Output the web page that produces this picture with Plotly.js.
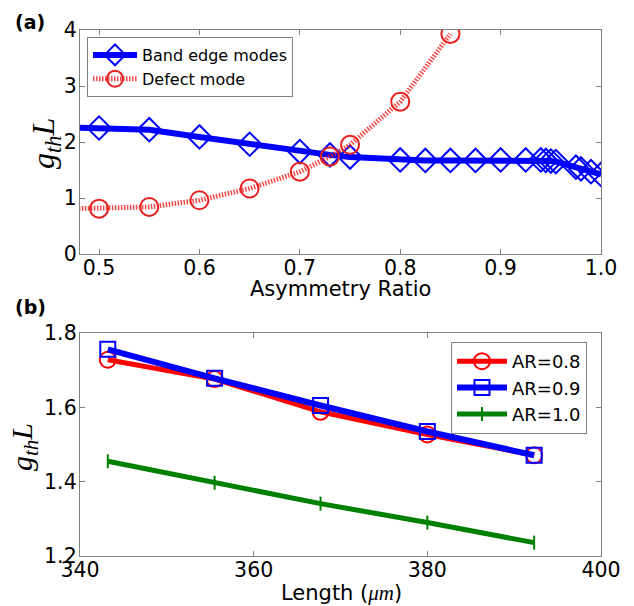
<!DOCTYPE html>
<html>
<head>
<meta charset="utf-8">
<script src="https://cdn.plot.ly/plotly-3.0.1.min.js"></script>
<style>
html,body{margin:0;padding:0;background:#fff;}
#chart{width:634px;height:606px;}
</style>
</head>
<body>
<div id="chart"></div>
<script>
// Panel (a): threshold gain vs asymmetry ratio
const asymRatioBand = [0.45, 0.5, 0.55, 0.6, 0.65, 0.7, 0.73, 0.75, 0.8, 0.825, 0.85, 0.875, 0.9, 0.925, 0.94, 0.945, 0.95, 0.955, 0.975, 0.98, 0.99, 1.0];
const bandEdgeGain = [2.27, 2.25, 2.22, 2.09, 1.96, 1.83, 1.77, 1.73, 1.68, 1.67, 1.67, 1.67, 1.68, 1.68, 1.68, 1.67, 1.66, 1.65, 1.55, 1.52, 1.47, 1.42];
const asymRatioDefect = [0.45, 0.5, 0.55, 0.6, 0.65, 0.7, 0.73, 0.75, 0.8, 0.85];
const defectGain = [0.80, 0.81, 0.84, 0.96, 1.17, 1.47, 1.74, 1.95, 2.72, 3.93];

// Panel (b): threshold gain vs length
const lengthUm = [343.2, 355.5, 367.7, 380.0, 392.3];
const gainAR08 = [1.728, 1.676, 1.588, 1.527, 1.471];
const gainAR09 = [1.756, 1.678, 1.605, 1.535, 1.471];
const gainAR10 = [1.455, 1.397, 1.341, 1.290, 1.236];

const seriesNamesA = ['Band edge modes', 'Defect mode'];
const seriesNamesB = ['AR=0.8', 'AR=0.9', 'AR=1.0'];
const xTicksA = [0.5, 0.6, 0.7, 0.8, 0.9, 1.0];
const yTicksA = [0, 1, 2, 3, 4];
const xTicksB = [340, 360, 380, 400];
const yTicksB = [1.2, 1.4, 1.6, 1.8];

const W = 634, H = 606;
const px = v => v / W;
const py = v => 1 - v / H;

const tickFont = {family: 'DejaVu Sans', size: 20.5, color: '#000'};
const frameColor = '#808080';

const traces = [
  {
    x: asymRatioBand, y: bandEdgeGain, name: seriesNamesA[0],
    xaxis: 'x', yaxis: 'y', legend: 'legend', mode: 'lines+markers',
    line: {color: '#0000ff', width: 6},
    marker: {symbol: 'diamond-open', size: 18, color: '#0000ff', line: {color: '#0000ff', width: 2}}
  },
  {
    x: asymRatioDefect, y: defectGain, name: seriesNamesA[1],
    xaxis: 'x', yaxis: 'y', legend: 'legend', mode: 'lines+markers',
    line: {color: 'rgba(240,30,30,0.8)', width: 5, dash: '1.5px,1.5px'},
    marker: {symbol: 'circle-open', size: 18, color: '#e8201f', line: {color: '#e8201f', width: 2}}
  },
  {
    x: lengthUm, y: gainAR08, name: seriesNamesB[0],
    xaxis: 'x2', yaxis: 'y2', legend: 'legend2', mode: 'lines+markers',
    line: {color: '#ff0000', width: 5},
    marker: {symbol: 'circle-open', size: 16, color: '#ff0000', line: {color: '#ff0000', width: 2}}
  },
  {
    x: lengthUm, y: gainAR09, name: seriesNamesB[1],
    xaxis: 'x2', yaxis: 'y2', legend: 'legend2', mode: 'lines+markers',
    line: {color: '#0000ff', width: 6},
    marker: {symbol: 'square-open', size: 15, color: '#0000ff', line: {color: '#0000ff', width: 2}}
  },
  {
    x: lengthUm, y: gainAR10, name: seriesNamesB[2],
    xaxis: 'x2', yaxis: 'y2', legend: 'legend2', mode: 'lines+markers',
    line: {color: '#008000', width: 5},
    marker: {symbol: 'line-ns-open', size: 10, color: '#008000', line: {color: '#008000', width: 2}}
  }
];

function axisBase(extra) {
  return Object.assign({
    showline: true, linecolor: frameColor, linewidth: 1.2, mirror: 'ticks',
    ticks: 'inside', ticklen: 5, tickwidth: 1, tickcolor: frameColor,
    showgrid: false, zeroline: false, tickfont: tickFont, tickmode: 'array',
    fixedrange: true
  }, extra);
}

const layout = {
  width: W, height: H,
  margin: {l: 0, r: 0, t: 0, b: 0, pad: 0},
  paper_bgcolor: '#fff', plot_bgcolor: '#fff',
  font: {family: 'DejaVu Sans', color: '#000'},
  xaxis: axisBase({domain: [px(80), px(601)], range: [0.481, 1.0], tickvals: xTicksA, ticktext: xTicksA.map(v => v.toFixed(1)), anchor: 'y', ticklabelstandoff: -5}),
  yaxis: axisBase({domain: [py(254), py(30)], range: [0, 4], tickvals: yTicksA, ticktext: yTicksA.map(String), anchor: 'x', ticklabelstandoff: -2}),
  xaxis2: axisBase({domain: [px(80), px(601)], range: [340, 400], tickvals: xTicksB, ticktext: xTicksB.map(String), anchor: 'y2', ticklabelstandoff: -5}),
  yaxis2: axisBase({domain: [py(556), py(333)], range: [1.2, 1.8], tickvals: yTicksB, ticktext: yTicksB.map(v => v.toFixed(1)), anchor: 'x2', ticklabelstandoff: -2}),
  legend: {
    x: px(87), y: py(37), xanchor: 'left', yanchor: 'top',
    bgcolor: '#fff', bordercolor: frameColor, borderwidth: 1,
    font: {family: 'DejaVu Sans', size: 16, color: '#000'}, itemwidth: 44, tracegroupgap: 0
  },
  legend2: {
    x: px(451), y: py(342), xanchor: 'left', yanchor: 'top',
    bgcolor: '#fff', bordercolor: frameColor, borderwidth: 1,
    font: {family: 'DejaVu Sans', size: 18, color: '#000'}, itemwidth: 50, tracegroupgap: 0
  },
  showlegend: true,
  annotations: [
    {text: '<b>(a)</b>', x: px(30), y: py(22), xref: 'paper', yref: 'paper', showarrow: false, xanchor: 'center', yanchor: 'middle', font: {family: 'DejaVu Sans', size: 19}},
    {text: '<b>(b)</b>', x: px(30), y: py(307), xref: 'paper', yref: 'paper', showarrow: false, xanchor: 'center', yanchor: 'middle', font: {family: 'DejaVu Sans', size: 19}},
    {text: 'Asymmetry Ratio', x: px(340), y: py(289), xref: 'paper', yref: 'paper', showarrow: false, xanchor: 'center', yanchor: 'middle', font: {family: 'DejaVu Sans', size: 21}},
    {text: 'Length (<i><span style="font-family:Liberation Serif">μm</span></i>)', x: px(341), y: py(593), xref: 'paper', yref: 'paper', showarrow: false, xanchor: 'center', yanchor: 'middle', font: {family: 'DejaVu Sans', size: 21}},
    {text: '<i>g</i><sub><i>th</i></sub><i>L</i>', x: px(45), y: py(144), xref: 'paper', yref: 'paper', showarrow: false, xanchor: 'center', yanchor: 'middle', textangle: -90, font: {family: 'Liberation Serif', size: 32}},
    {text: '<i>g</i><sub><i>th</i></sub><i>L</i>', x: px(24), y: py(447), xref: 'paper', yref: 'paper', showarrow: false, xanchor: 'center', yanchor: 'middle', textangle: -90, font: {family: 'Liberation Serif', size: 30}}
  ]
};

Plotly.newPlot('chart', traces, layout, {staticPlot: true, displayModeBar: false});
</script>
</body>
</html>
